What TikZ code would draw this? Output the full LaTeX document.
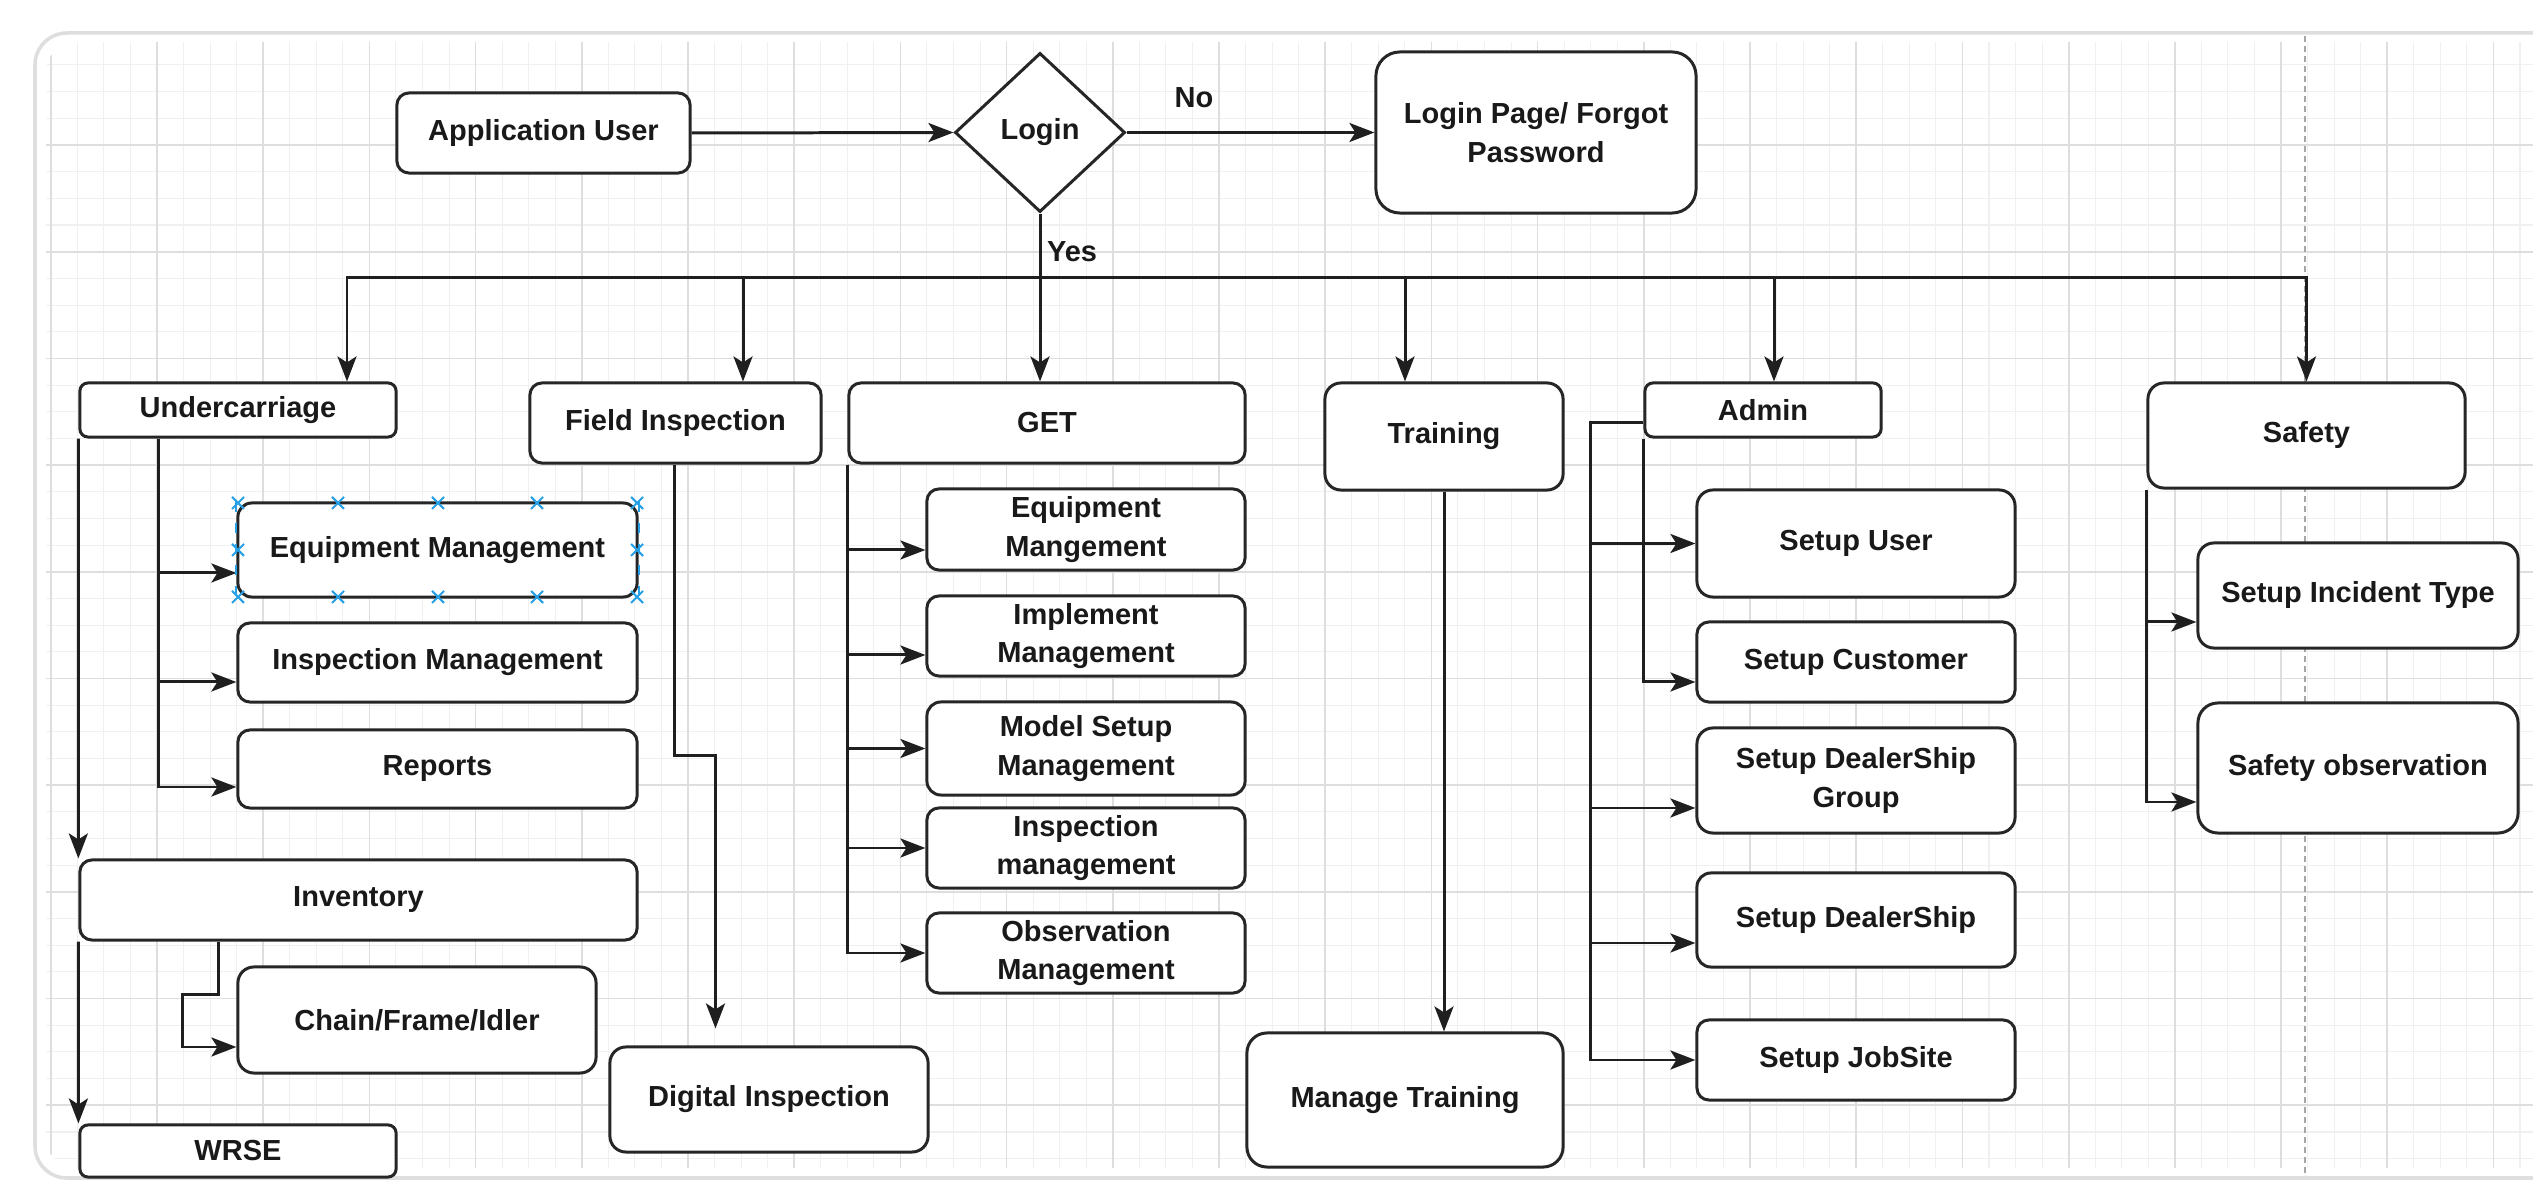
\documentclass[tikz,border=0pt]{standalone}
\usepackage{fontspec}
\setmainfont{Liberation Sans}
\usetikzlibrary{shapes.geometric,arrows.meta}
\newcommand{\mysel}[2]{\draw[selmark] ({#1-6},{#2-6}) -- ({#1+6},{#2+6}) ({#1-6},{#2+6}) -- ({#1+6},{#2-6});}
\tikzset{
  box/.style={draw=black!85, line width=0.85pt, fill=white, align=center, inner sep=0pt,
    font=\bfseries\fontsize{8.25}{11}\selectfont, text=black!90},
  arr/.style={draw=black!88, line width=0.85pt, -{Stealth[length=2.5mm,width=1.9mm,inset=0.6mm]}},
  lbl/.style={font=\bfseries\fontsize{8.25}{11}\selectfont, inner sep=0pt, text=black!90},
  gridminor/.style={draw=black!6, line width=0.3pt},
  gridmajor/.style={draw=black!13, line width=0.5pt},
  pageline/.style={draw=black!35, line width=0.5pt, dash pattern=on 0.06cm off 0.04cm},
  selmark/.style={draw={rgb,255:red,40;green,160;blue,230}, line width=0.6pt},
}
\begin{document}
\begin{tikzpicture}[x=0.01cm,y=-0.01cm]
\useasboundingbox (0,0) rectangle (2533,1180);
% card
\fill[white] (0,0) rectangle (2533,1180);
\draw[draw=black!13, line width=1pt, fill=white, rounded corners=0.32cm] (35,33) rectangle (2620,1178);
\begin{scope}
  \clip[rounded corners=0.3cm] (46,42) rectangle (2620,1168);
  \foreach \i in {0,...,96} {\draw[gridminor] ({50.8+26.55*\i},30) -- ({50.8+26.55*\i},1180);}
  \foreach \j in {0,...,44} {\draw[gridminor] (30,{38.3+26.675*\j}) -- (2620,{38.3+26.675*\j});}
  \foreach \i in {0,...,24} {\draw[gridmajor] ({50.8+106.2*\i},30) -- ({50.8+106.2*\i},1180);}
  \foreach \j in {0,...,11} {\draw[gridmajor] (30,{38.3+106.7*\j}) -- (2620,{38.3+106.7*\j});}
\end{scope}
\draw[pageline] (2305,36) -- (2305,1176);

% top row
\node[box, minimum width=2.93cm, minimum height=0.80cm, rounded corners=0.12cm] (appuser) at (543.5,133) {Application User};
\node[box, shape=diamond, minimum width=1.70cm, minimum height=1.59cm] (login) at (1040,132.5) {Login};
\node[box, minimum width=3.20cm, minimum height=1.61cm, rounded corners=0.24cm] (loginpage) at (1536,132.5) {Login Page/ Forgot\\Password};
\node[lbl] (nolbl) at (1194,98) {No};
\node[lbl] (yeslbl) at (1072,252) {Yes};

% second row
\node[box, minimum width=3.16cm, minimum height=0.54cm, rounded corners=0.08cm] (undercarriage) at (238,410) {Undercarriage};
\node[box, minimum width=2.91cm, minimum height=0.80cm, rounded corners=0.12cm] (fieldinsp) at (675.5,423) {Field Inspection};
\node[box, minimum width=3.96cm, minimum height=0.80cm, rounded corners=0.12cm] (get) at (1047,423) {GET};
\node[box, minimum width=2.38cm, minimum height=1.07cm, rounded corners=0.16cm] (training) at (1444,436.5) {Training};
\node[box, minimum width=2.36cm, minimum height=0.54cm, rounded corners=0.08cm] (admin) at (1763,410) {Admin};
\node[box, minimum width=3.17cm, minimum height=1.05cm, rounded corners=0.16cm] (safety) at (2306.5,435.5) {Safety};

% undercarriage branch
\node[box, minimum width=3.99cm, minimum height=0.94cm, rounded corners=0.14cm] (uceq) at (437.5,550) {Equipment Management};
\node[box, minimum width=3.99cm, minimum height=0.79cm, rounded corners=0.12cm] (ucinsp) at (437.5,662.5) {Inspection Management};
\node[box, minimum width=3.99cm, minimum height=0.78cm, rounded corners=0.12cm] (ucrep) at (437.5,769) {Reports};
\node[box, minimum width=5.57cm, minimum height=0.80cm, rounded corners=0.12cm] (inventory) at (358.5,900) {Inventory};
\node[box, minimum width=3.58cm, minimum height=1.06cm, rounded corners=0.16cm] (chain) at (417,1020) {Chain/Frame/Idler};
\node[box, minimum width=3.16cm, minimum height=0.52cm, rounded corners=0.08cm] (wrse) at (238,1151) {WRSE};

% field inspection
\node[box, minimum width=3.18cm, minimum height=1.05cm, rounded corners=0.16cm] (digital) at (769,1099.5) {Digital Inspection};

% GET branch
\node[box, minimum width=3.18cm, minimum height=0.81cm, rounded corners=0.12cm] (geq) at (1086,529.5) {Equipment\\Mangement};
\node[box, minimum width=3.18cm, minimum height=0.80cm, rounded corners=0.12cm] (gimpl) at (1086,636) {Implement\\Management};
\node[box, minimum width=3.18cm, minimum height=0.93cm, rounded corners=0.14cm] (gmodel) at (1086,748.5) {Model Setup\\Management};
\node[box, minimum width=3.18cm, minimum height=0.80cm, rounded corners=0.12cm] (ginsp) at (1086,848) {Inspection\\management};
\node[box, minimum width=3.18cm, minimum height=0.80cm, rounded corners=0.12cm] (gobs) at (1086,953) {Observation\\Management};

% training
\node[box, minimum width=3.16cm, minimum height=1.34cm, rounded corners=0.2cm] (managetr) at (1405,1100) {Manage Training};

% admin branch
\node[box, minimum width=3.18cm, minimum height=1.07cm, rounded corners=0.16cm] (setupuser) at (1856,543.5) {Setup User};
\node[box, minimum width=3.18cm, minimum height=0.80cm, rounded corners=0.12cm] (setupcust) at (1856,662) {Setup Customer};
\node[box, minimum width=3.18cm, minimum height=1.05cm, rounded corners=0.16cm] (dsgroup) at (1856,780.5) {Setup DealerShip\\Group};
\node[box, minimum width=3.18cm, minimum height=0.94cm, rounded corners=0.14cm] (setupds) at (1856,920) {Setup DealerShip};
\node[box, minimum width=3.18cm, minimum height=0.80cm, rounded corners=0.12cm] (jobsite) at (1856,1060) {Setup JobSite};

% safety branch
\node[box, minimum width=3.20cm, minimum height=1.05cm, rounded corners=0.16cm] (incident) at (2358,595.5) {Setup Incident Type};
\node[box, minimum width=3.20cm, minimum height=1.30cm, rounded corners=0.2cm] (safetyobs) at (2358,768) {Safety observation};

% connectors: top
\draw[arr] (appuser.east) -- (login.west);
\draw[arr] (login.east) -- (loginpage.west);
\draw[arr] (login.south) -- (login.south |- get.north);
\draw[arr] (login.south |- 0,278) -| (undercarriage.north -| 347,0);
\draw[arr] (login.south |- 0,278) -| (fieldinsp.north -| 743,0);
\draw[arr] (login.south |- 0,278) -| (training.north -| 1405,0);
\draw[arr] (login.south |- 0,278) -| (admin.north -| 1774,0);
\draw[arr] (login.south |- 0,278) -| (safety.north);

% undercarriage
\draw[arr] ([xshift=0.8cm]undercarriage.south west) |- (uceq.west |- 0,573);
\draw[arr] ([xshift=0.8cm]undercarriage.south west) |- (ucinsp.west |- 0,682);
\draw[arr] ([xshift=0.8cm]undercarriage.south west) |- (ucrep.west |- 0,787);
\draw[arr] (undercarriage.south west) -- (inventory.north west);
\draw[arr] (inventory.south west) -- (wrse.north west);
\draw[arr] ([xshift=1.4cm]inventory.south west) -- ++(0,53) -- ++(-36,0) |- (chain.west |- 0,1047);

% field inspection
\draw[arr] ([xshift=1.46cm]fieldinsp.south west) -- ++(0,291) -| ([xshift=1.07cm,yshift=0.17cm]digital.north west);

% GET
\draw[arr] (get.south west) |- (geq.west |- 0,550);
\draw[arr] (get.south west) |- (gimpl.west |- 0,655);
\draw[arr] (get.south west) |- (gmodel.west);
\draw[arr] (get.south west) |- (ginsp.west);
\draw[arr] (get.south west) |- (gobs.west);

% training
\draw[arr] (training.south) -- (training.south |- managetr.north);

% admin
\draw[arr] (admin.west |- 0,423) -- ++(-53,0) |- (setupuser.west);
\draw[arr] (admin.west |- 0,423) -- ++(-53,0) |- (dsgroup.west |- 0,808);
\draw[arr] (admin.west |- 0,423) -- ++(-53,0) |- (setupds.west |- 0,943);
\draw[arr] (admin.west |- 0,423) -- ++(-53,0) |- (jobsite.west);
\draw[arr] (admin.south west) |- (setupcust.west |- 0,682);

% safety
\draw[arr] (safety.south west) |- (incident.west |- 0,622);
\draw[arr] (safety.south west) |- (safetyobs.west |- 0,802);

% selection marks on the selected box
\draw[selmark, dashed] (uceq.north west) -- (uceq.south west);
\draw[selmark, dashed] (uceq.north east) -- (uceq.south east);
\foreach \xx in {238,338,438,537,637} {\mysel{\xx}{503}\mysel{\xx}{597}}
\mysel{238}{550}\mysel{637}{550}
\end{tikzpicture}
\end{document}
